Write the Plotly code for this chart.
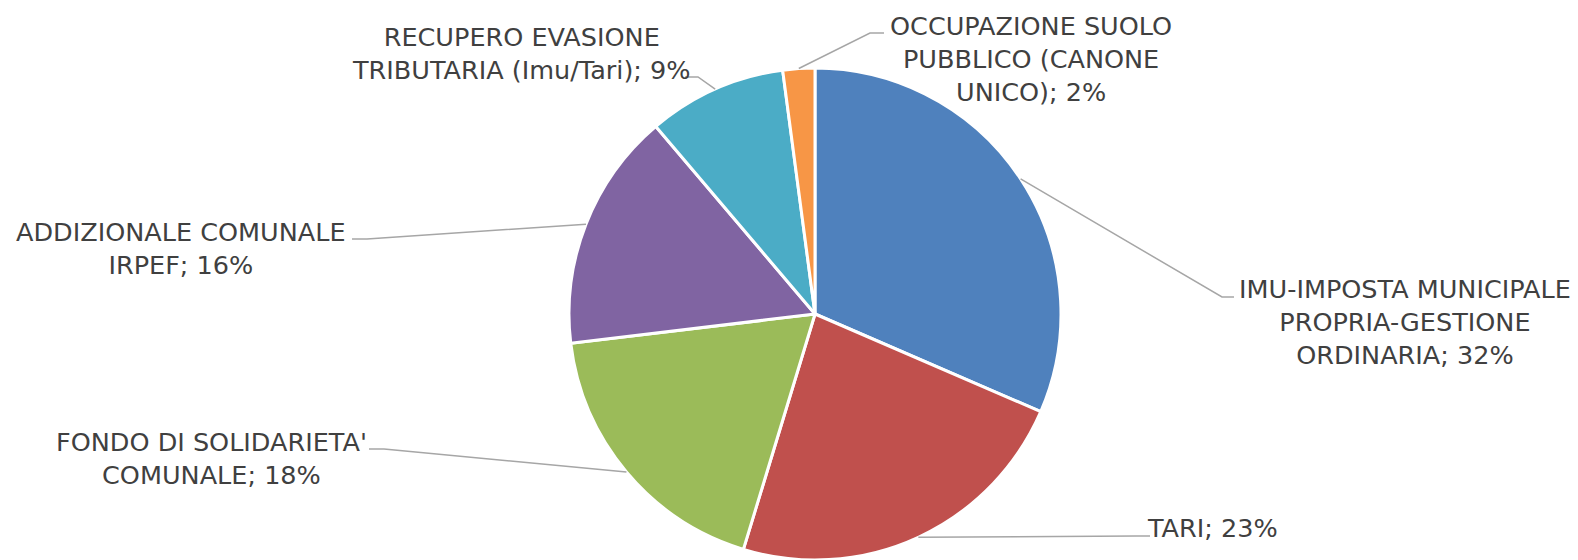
import math
import plotly.graph_objects as go

# ---- data ----
categories = [
    "IMU-IMPOSTA MUNICIPALE<br>PROPRIA-GESTIONE<br>ORDINARIA",
    "TARI",
    "FONDO DI SOLIDARIETA'<br>COMUNALE",
    "ADDIZIONALE COMUNALE<br>IRPEF",
    "RECUPERO EVASIONE<br>TRIBUTARIA (Imu/Tari)",
    "OCCUPAZIONE SUOLO<br>PUBBLICO (CANONE<br>UNICO)",
]
values = [31.5, 23.2, 18.4, 15.7, 9.1, 2.1]
colors = ["#4F81BD", "#C0504D", "#9BBB59", "#8064A2", "#4BACC6", "#F79646"]

# ---- layout constants (pixels) ----
W, H = 1578, 560
CX, CY, R = 815, 314, 246
# label centres and leader-line bend/end points (layout, not data)
label_pos = [(1405, 322), (1212, 528), (211, 458), (181, 248), (521, 53), (1031, 59)]
leader_bend = [(1222, 297), (1136, 536), (384, 449), (367, 239), (698, 77), (870, 33)]
leader_end = [(1234, 297), (1150, 536), (369, 449), (352, 239), (685, 77), (884, 33)]

def px(x, y):
    return x / W, 1 - y / H

fig = go.Figure()
fig.add_trace(go.Pie(
    labels=categories,
    values=values,
    sort=False,
    direction="clockwise",
    rotation=0,
    marker=dict(colors=colors, line=dict(color="#FFFFFF", width=3)),
    textinfo="none",
    hoverinfo="label+percent",
    showlegend=False,
    domain=dict(x=[(CX - R) / W, (CX + R) / W], y=[(H - CY - R) / H, (H - CY + R) / H]),
))

total = sum(values)
cum = 0.0
shapes = []
annotations = []
for i, v in enumerate(values):
    mid = (cum + v / 2) / total * 2 * math.pi
    cum += v
    ex = CX + R * math.sin(mid)
    ey = CY - R * math.cos(mid)
    pts = [(ex, ey), leader_bend[i], leader_end[i]]
    path = "M " + " L ".join(f"{px(x, y)[0]:.5f},{px(x, y)[1]:.5f}" for x, y in pts)
    shapes.append(dict(type="path", xref="paper", yref="paper", path=path,
                       line=dict(color="#A6A6A6", width=1.5)))
    pct = round(v / total * 100)
    lx, ly = px(*label_pos[i])
    annotations.append(dict(
        x=lx, y=ly, xref="paper", yref="paper", xanchor="center", yanchor="middle",
        text=f"{categories[i]}; {pct}%", showarrow=False, align="center",
        font=dict(family="DejaVu Sans", size=25.5, color="#404040"),
    ))

fig.update_layout(
    width=W, height=H,
    margin=dict(l=0, r=0, t=0, b=0),
    paper_bgcolor="#FFFFFF",
    plot_bgcolor="#FFFFFF",
    shapes=shapes,
    annotations=annotations,
)

fig.write_html(
    "out.html",
    config={"displayModeBar": False},
    post_script="document.body.style.margin='0';document.body.style.overflow='hidden';",
)
